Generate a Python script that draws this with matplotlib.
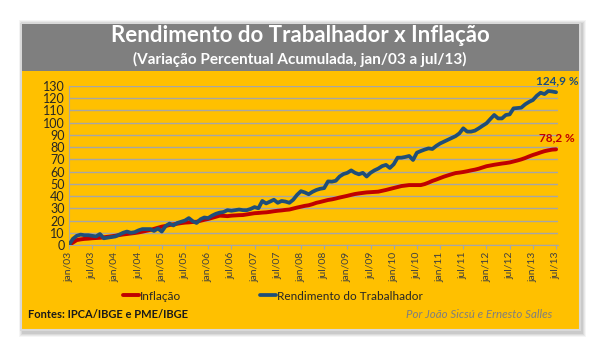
import matplotlib
matplotlib.use('Agg')
import matplotlib.pyplot as plt
from matplotlib.patches import Rectangle
import numpy as np

plt.rcParams['font.family'] = ['Lato', 'DejaVu Sans']

# dados (variação percentual acumulada, mensal jan/03 .. jul/13)
inflacao = [0, 2.0, 4.0, 4.6, 5.0, 5.2, 5.5, 5.7, 5.9, 6.3, 6.7, 7.1,
            7.6, 8.1, 8.6, 9.0, 9.4, 9.8, 10.3, 10.9, 11.6, 12.3, 13.2, 14.1,
            15.0, 15.6, 16.3, 16.9, 17.4, 17.9, 18.3, 18.5, 18.8, 19.0, 19.8, 20.6,
            21.3, 22.2, 23.1, 24.0, 23.8, 23.6, 24.0, 24.2, 24.4, 24.5, 25.0, 25.5,
            26.0, 26.2, 26.5, 26.7, 27.1, 27.6, 28.0, 28.3, 28.7, 29.0, 29.8, 30.6,
            31.3, 32.0, 32.5, 33.4, 34.5, 35.2, 36.0, 36.8, 37.3, 38.0, 38.8, 39.5,
            40.2, 41.0, 41.7, 42.2, 42.6, 43.0, 43.2, 43.4, 43.6, 44.3, 45.0, 45.8,
            46.6, 47.4, 48.2, 48.6, 49.0, 49.0, 49.0, 49.0, 49.8, 51.0, 52.4, 53.5,
            54.7, 55.9, 56.9, 57.9, 58.8, 59.2, 59.7, 60.3, 61.0, 61.6, 62.4, 63.4,
            64.4, 65.0, 65.6, 66.1, 66.6, 67.0, 67.5, 68.3, 69.1, 70.0, 71.1, 72.4,
            73.6, 74.6, 75.7, 76.7, 77.4, 78.0, 78.2]
rendimento = [0, 5.0, 7.5, 8.5, 8.0, 8.0, 7.5, 7.0, 9.0, 5.5, 6.0, 6.5,
              7.0, 8.5, 10.0, 11.0, 10.0, 10.5, 12.0, 13.0, 13.0, 13.0, 11.5, 13.5,
              11.0, 15.5, 17.5, 16.0, 18.0, 19.0, 20.0, 22.0, 19.5, 18.0, 21.0, 22.5,
              22.0, 24.0, 25.5, 26.5, 27.0, 28.5, 28.0, 28.5, 29.0, 28.5, 28.5, 29.5,
              31.0, 30.0, 36.0, 34.0, 35.5, 37.0, 34.5, 36.0, 35.5, 34.5, 37.0, 41.0,
              44.0, 43.0, 41.5, 43.5, 45.0, 46.0, 46.5, 52.0, 51.8, 52.5, 56.0, 58.0,
              59.0, 61.0, 59.0, 57.8, 59.0, 56.0, 59.0, 61.0, 62.5, 64.5, 65.5, 63.0,
              66.0, 71.4, 71.4, 72.0, 72.8, 69.5, 75.5, 76.8, 78.0, 79.0, 78.5, 81.0,
              83.0, 84.5, 86.0, 87.5, 89.0, 91.3, 95.4, 92.7, 92.7, 93.5, 95.4, 97.5,
              99.5, 103.0, 106.3, 103.5, 103.5, 106.3, 106.8, 111.7, 112.0, 112.3, 115.0, 117.0,
              118.5, 122.0, 124.5, 123.4, 125.9, 125.5, 124.9]
rotulos = ['jan/03', 'jul/03', 'jan/04', 'jul/04', 'jan/05', 'jul/05', 'jan/06', 'jul/06',
           'jan/07', 'jul/07', 'jan/08', 'jul/08', 'jan/09', 'jul/09', 'jan/10', 'jul/10',
           'jan/11', 'jul/11', 'jan/12', 'jul/12', 'jan/13', 'jul/13']
meses = np.arange(len(inflacao))

fig = plt.figure(figsize=(6, 3.4), dpi=100)
fig.patch.set_facecolor('white')

W, H = 600.0, 340.0
def fx(px): return px / W
def fy(py): return 1 - py / H

# cartão com sombra
for i, a in enumerate([0.04, 0.05, 0.06, 0.07]):
    d = 4 - i
    fig.patches.append(Rectangle((fx(21 - d + 2), fy(330 + d + 3)), fx(559 + 2 * d), (309 + 2 * d) / H,
                                 transform=fig.transFigure, facecolor='black', alpha=a,
                                 edgecolor='none', zorder=0))
fig.patches.append(Rectangle((fx(21), fy(330)), fx(559), 306 / H, transform=fig.transFigure,
                             facecolor='#FFC000', edgecolor='#D9D9D9', lw=1.5, zorder=1))
fig.patches.append(Rectangle((fx(22), fy(71)), fx(557), 47 / H, transform=fig.transFigure,
                             facecolor='#7F7F7F', edgecolor='none', zorder=2))

fig.text(0.5, fy(36), 'Rendimento do Trabalhador x Inflação', color='white',
         fontsize=16, fontweight='bold', ha='center', va='center', zorder=3)
fig.text(0.5, fy(59), '(Variação Percentual Acumulada, jan/03 a jul/13)', color='white',
         fontsize=11, fontweight='bold', ha='center', va='center', zorder=3)

ax = fig.add_axes([fx(69), fy(245), fx(558 - 69), (245 - 86) / H])
ax.set_facecolor('none')
ax.set_zorder(4)

ax.plot(meses, inflacao, color='#C00000', lw=2.8, solid_capstyle='round', label='Inflação', zorder=3)
ax.plot(meses, rendimento, color='#1F4E79', lw=2.7, solid_capstyle='round',
        label='Rendimento do Trabalhador', zorder=4)

ax.set_xlim(0, 126.5)
ax.set_ylim(0, 130)
ax.set_yticks(np.arange(0, 131, 10))
ax.yaxis.grid(True, color='#A6A6A6', lw=1)
ax.set_axisbelow(True)
ax.set_xticks(np.arange(0, 127, 6))
ax.set_xticklabels(rotulos, rotation=90, fontsize=7.5, color='#404040')
ax.tick_params(axis='y', labelsize=9, colors='#262626', length=0, pad=3)
ax.tick_params(axis='x', length=3, color='#A6A6A6', pad=2)
for s in ['top', 'right']:
    ax.spines[s].set_visible(False)
ax.spines['left'].set_color('#A6A6A6')
ax.spines['bottom'].set_color('#A6A6A6')

ax.text(126.3, 134, '124,9 %', color='#1F4E79', fontsize=8.5, fontweight='bold',
        ha='center', va='center', clip_on=False)
ax.text(126.3, 87.5, '78,2 %', color='#C00000', fontsize=8.5, fontweight='bold',
        ha='center', va='center', clip_on=False)

leg = fig.legend(loc='center left', bbox_to_anchor=(fx(112), fy(296)), ncol=2, frameon=False,
                 fontsize=8.5, handlelength=1.4, handletextpad=0.1, columnspacing=6.6)
for t in leg.get_texts():
    t.set_color('#262626')

fig.text(fx(28), fy(315), 'Fontes: IPCA/IBGE e PME/IBGE', fontsize=8, fontweight='bold',
         color='#1a1a1a', ha='left', va='center', zorder=3)
fig.text(fx(552), fy(315), 'Por João Sicsú e Ernesto Salles', fontsize=8.3, style='italic',
         color='#7F7F7F', ha='right', va='center', zorder=3)

fig.savefig('out.png', dpi=100, facecolor='white')
